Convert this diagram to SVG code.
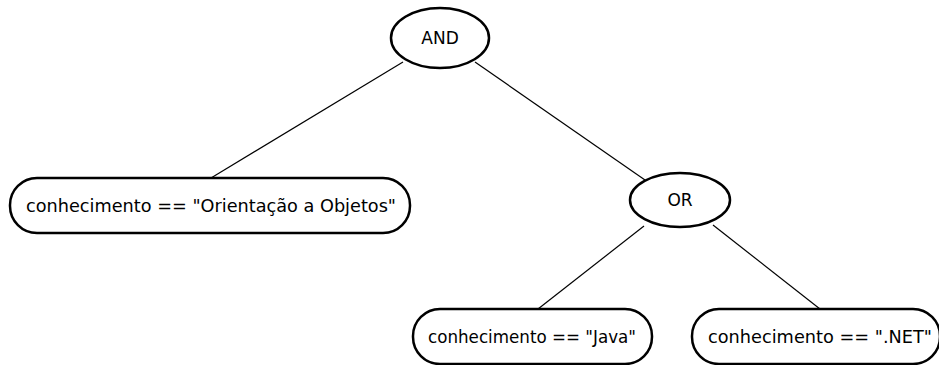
<svg xmlns="http://www.w3.org/2000/svg" width="939" height="365" viewBox="0 0 939 365">
<style>
.n{fill:#fff;stroke:#000;stroke-width:2.5}
.t{font-family:"DejaVu Sans",sans-serif;font-size:17px;fill:#000;text-anchor:middle;dominant-baseline:central}
.e{stroke:#000;stroke-width:1.2;fill:none}
</style>
<rect width="939" height="365" fill="#fff"/>
<g id="connectors">
<line class="e" x1="403" y1="62" x2="211" y2="178"/>
<line class="e" x1="475" y1="62" x2="645" y2="180"/>
<line class="e" x1="644" y1="226" x2="538" y2="309"/>
<line class="e" x1="713" y1="225" x2="820" y2="309"/>
</g>
<g id="and"><ellipse class="n" cx="440" cy="38" rx="49" ry="30"/><text class="t" x="440" y="38">AND</text></g>
<g id="oo"><rect class="n" x="10" y="178" width="400" height="55" rx="27"/><text class="t" x="211" y="206" textLength="370" lengthAdjust="spacingAndGlyphs">conhecimento == "Orientação a Objetos"</text></g>
<g id="or"><ellipse class="n" cx="680" cy="200" rx="50" ry="27"/><text class="t" x="680" y="200">OR</text></g>
<g id="java"><rect class="n" x="413" y="309" width="239" height="55" rx="27"/><text class="t" x="532" y="337" textLength="208" lengthAdjust="spacingAndGlyphs">conhecimento == "Java"</text></g>
<g id="net"><rect class="n" x="692" y="309" width="248" height="55" rx="27"/><text class="t" x="820" y="337" textLength="224" lengthAdjust="spacingAndGlyphs">conhecimento == ".NET"</text></g>
</svg>
